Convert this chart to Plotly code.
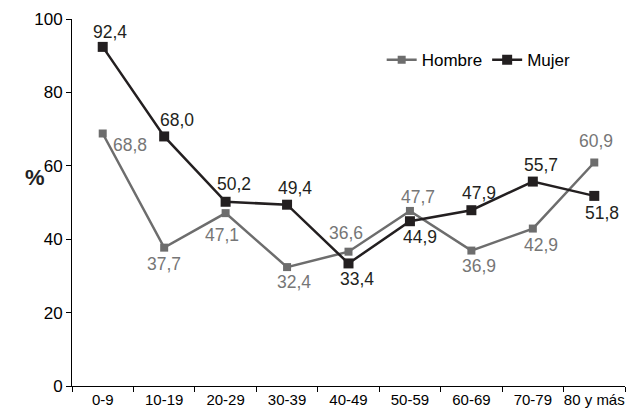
import plotly.graph_objects as go

categories = ["0-9", "10-19", "20-29", "30-39", "40-49", "50-59", "60-69", "70-79", "80 y más"]
hombre = [68.8, 37.7, 47.1, 32.4, 36.6, 47.7, 36.9, 42.9, 60.9]
mujer = [92.4, 68.0, 50.2, 49.4, 33.4, 44.9, 47.9, 55.7, 51.8]
y_ticks = [0, 20, 40, 60, 80, 100]

# label offsets in pixels (dx, dy up-positive)
hombre_off = [(27, -11), (0, -16), (-4, -22), (7, -15), (-3, 19), (8, 14), (8, -15), (8, -16), (2, 22)]
mujer_off = [(7, 15), (13, 16), (8, 18), (8, 17), (8, -16), (10, -16), (8, 17), (8, 17), (8, -17)]

def fmt(v):
    return f"{v:.1f}".replace(".", ",")

FONT = "Liberation Sans, Arial"
H_COL = "#6d6d6d"
M_COL = "#231f20"

fig = go.Figure()
fig.add_trace(go.Scatter(
    x=categories, y=hombre, name="Hombre", mode="lines+markers",
    line=dict(color=H_COL, width=2.5),
    marker=dict(symbol="square", size=8, color=H_COL),
))
fig.add_trace(go.Scatter(
    x=categories, y=mujer, name="Mujer", mode="lines+markers",
    line=dict(color=M_COL, width=2.5),
    marker=dict(symbol="square", size=10, color=M_COL),
))

for vals, offs, col in [(hombre, hombre_off, "#767676"), (mujer, mujer_off, M_COL)]:
    for c, v, (dx, dy) in zip(categories, vals, offs):
        fig.add_annotation(x=c, y=v, text=fmt(v), showarrow=False,
                           xshift=dx, yshift=dy,
                           font=dict(size=17.5, color=col, family=FONT))

fig.update_layout(
    width=630, height=400,
    margin=dict(l=64, r=13, t=11, b=22, autoexpand=False),
    plot_bgcolor="white", paper_bgcolor="white",
    font=dict(family=FONT, size=15, color="#000"),
    showlegend=True,
    legend=dict(orientation="h", x=0.56, y=0.888, xanchor="left", yanchor="middle",
                font=dict(size=17), bgcolor="rgba(0,0,0,0)", itemwidth=30,
                tracegroupgap=0),
    xaxis=dict(
        type="category", range=[-0.5, 8.5], automargin=False, tickangle=0,
        showline=True, linecolor="#000", linewidth=1,
        ticks="outside", ticklen=5, tickcolor="#000",
        tickson="boundaries", showgrid=False, zeroline=False,
        tickfont=dict(size=15),
    ),
    yaxis=dict(
        range=[0, 100], tickvals=y_ticks, automargin=False,
        showline=True, linecolor="#000", linewidth=1,
        ticks="outside", ticklen=5, tickcolor="#000",
        showgrid=False, zeroline=False,
        tickfont=dict(size=17),
    ),
)
fig.add_annotation(text="<b>%</b>", xref="paper", yref="paper", x=-0.089, y=0.567,
                   showarrow=False, font=dict(size=22, color="#222"))

fig.write_html("out.html")
